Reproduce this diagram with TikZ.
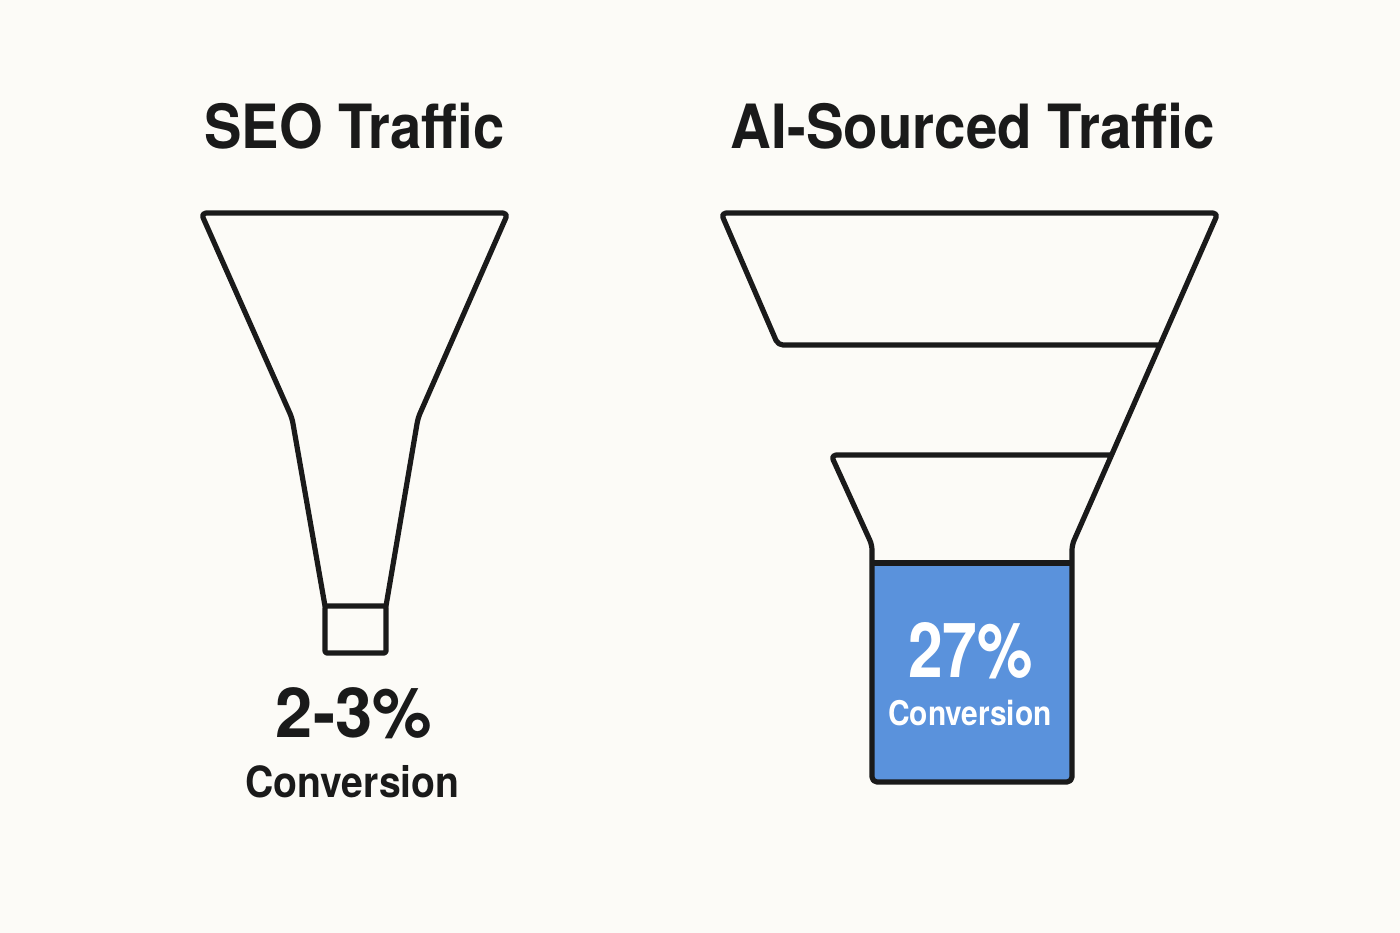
\documentclass[tikz,border=0pt]{standalone}
\usepackage{fontspec}
\setmainfont{TeX Gyre Heros}
\usepackage{graphicx}
\definecolor{bg}{RGB}{252,251,247}
\definecolor{ink}{RGB}{26,26,26}
\definecolor{fillblue}{RGB}{90,146,220}
\begin{document}
\begin{tikzpicture}[x=1pt,y=-1pt,
  funnelline/.style={draw=ink, line width=5.2pt, line cap=round, line join=round, rounded corners=5pt},
  titletext/.style={font=\fontsize{61}{70}\selectfont\bfseries, text=ink, inner sep=0pt, anchor=base},
  bigpct/.style={font=\fontsize{69}{80}\selectfont\bfseries, inner sep=0pt, anchor=base},
  convtext/.style={font=\fontsize{43}{50}\selectfont\bfseries, inner sep=0pt, anchor=base}]
\useasboundingbox (0,0) rectangle (1400,933);
\fill[bg] (0,0) rectangle (1400,933);

% Titles
\node[titletext] (seotitle) at (354.5,149) {\scalebox{0.92}[1]{SEO Traffic}};
\node[titletext] (aititle) at (973,149) {\scalebox{0.925}[1]{AI-Sourced Traffic}};

% SEO funnel
\draw[funnelline] (325,606) -- (292,418) -- (201,213) -- (508,213) -- (418,418) -- (386,606);
\draw[draw=ink, line width=5.2pt, line join=round, rounded corners=2pt] (325,606) rectangle (386,653);

\node[bigpct, text=ink] (seopct) at (354,737) {\scalebox{0.97}[1]{2-3\%}};
\node[convtext, text=ink] (seoconv) at (352.5,797) {\scalebox{0.91}[1]{Conversion}};

% AI funnel
\fill[fillblue] (872,563) rectangle (1072,782);
\draw[funnelline] (1160,345) -- (778,345) -- (721,213) -- (1218,213) -- (1072,545) -- (1072,782) -- (872,782) -- (872,545) -- (831,455) -- (1111.5,455);
\draw[draw=ink, line width=5.2pt] (872,563) -- (1072,563);

\node[font=\fontsize{76}{86}\selectfont\bfseries, text=white, inner sep=0pt, anchor=base] (aipct) at (970.5,677) {\scalebox{0.82}[1]{27\%}};
\node[font=\fontsize{34}{40}\selectfont\bfseries, text=white, inner sep=0pt, anchor=base] (aiconv) at (970,725) {\scalebox{0.88}[1]{Conversion}};
\end{tikzpicture}
\end{document}
